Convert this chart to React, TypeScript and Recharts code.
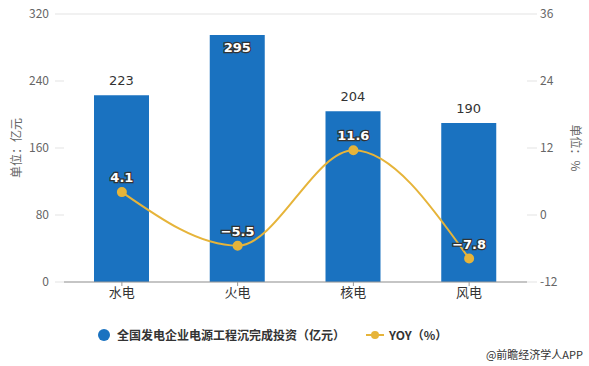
import React from "react";
import {
  Bar,
  CartesianGrid,
  ComposedChart,
  LabelList,
  Line,
  XAxis,
  YAxis,
} from "recharts";

const categories = ["水电", "火电", "核电", "风电"];
const investment = [223, 295, 204, 190];
const yoy = [4.1, -5.5, 11.6, -7.8];
const leftTicks = [0, 80, 160, 240, 320];
const rightTicks = [-12, 0, 12, 24, 36];

const data = categories.map((name, i) => ({
  name,
  investment: investment[i],
  yoy: yoy[i],
}));

const BAR_COLOR = "#1a72c0";
const LINE_COLOR = "#e6b43a";
const CJK = '"Noto Sans CJK SC", "Noto Sans", sans-serif';
const NUM = '"DejaVu Sans", sans-serif';

const BarLabel = (props: any) => {
  const { x, y, width, value } = props;
  const cx = x + width / 2;
  // tallest bar: label sits inside the bar top
  if (y < 50) {
    return (
      <text
        x={cx}
        y={y + 17}
        textAnchor="middle"
        fontFamily={NUM}
        fontSize={13}
        fontWeight="bold"
        fill="#fff"
        stroke="#333"
        strokeWidth={2.5}
        paintOrder="stroke"
      >
        {value}
      </text>
    );
  }
  return (
    <text
      x={cx}
      y={y - 10}
      textAnchor="middle"
      fontFamily={NUM}
      fontSize={13}
      fill="#333"
    >
      {value}
    </text>
  );
};

const LineLabel = (props: any) => {
  const { x, y, value } = props;
  return (
    <text
      x={x}
      y={y - 10}
      textAnchor="middle"
      fontFamily={NUM}
      fontSize={13}
      fontWeight="bold"
      fill="#fff"
      stroke="#333"
      strokeWidth={2.5}
      paintOrder="stroke"
    >
      {String(value).replace("-", "\u2212")}
    </text>
  );
};

const LeftAxisLabel = ({ viewBox }: any) => {
  const x = 15;
  const y = viewBox.y + viewBox.height / 2;
  return (
    <text
      x={x}
      y={y}
      transform={`rotate(-90 ${x} ${y})`}
      textAnchor="middle"
      dominantBaseline="central"
      fontFamily={CJK}
      fontSize={12}
      fill="#666"
    >
      单位：亿元
    </text>
  );
};

const RightAxisLabel = ({ viewBox }: any) => {
  const x = 576;
  const y = viewBox.y + viewBox.height / 2;
  return (
    <text
      x={x}
      y={y}
      transform={`rotate(90 ${x} ${y})`}
      textAnchor="middle"
      dominantBaseline="central"
      fontFamily={CJK}
      fontSize={12}
      fill="#666"
    >
      单位：%
    </text>
  );
};

export default function App() {
  return (
    <div
      style={{
        position: "absolute",
        left: 0,
        top: 0,
        width: 589,
        height: 366,
        background: "#fff",
        fontFamily: CJK,
      }}
    >
      <ComposedChart
        width={589}
        height={366}
        data={data}
        margin={{ top: 14, right: 0, left: 0, bottom: 54 }}
      >
        <CartesianGrid vertical={false} stroke="#e3e3e3" />
        <XAxis
          dataKey="name"
          height={30}
          axisLine={{ stroke: "#999" }}
          tickLine={{ stroke: "#999" }}
          tickSize={4}
          tick={{ fill: "#333", fontSize: 13, fontFamily: CJK }}
        />
        <YAxis
          yAxisId="left"
          width={64}
          domain={[0, 320]}
          ticks={leftTicks}
          axisLine={false}
          tickLine={{ stroke: "#e3e3e3" }}
          tickSize={9}
          tickMargin={6}
          tick={{ fill: "#666", fontSize: 12, fontFamily: CJK }}
          label={<LeftAxisLabel />}
        />
        <YAxis
          yAxisId="right"
          orientation="right"
          width={62}
          domain={[-12, 36]}
          ticks={rightTicks}
          axisLine={false}
          tickLine={{ stroke: "#e3e3e3" }}
          tickSize={10}
          tickMargin={3}
          tick={{ fill: "#666", fontSize: 12, fontFamily: CJK }}
          label={<RightAxisLabel />}
        />
        <Bar
          yAxisId="left"
          dataKey="investment"
          fill={BAR_COLOR}
          barSize={55}
          isAnimationActive={false}
        >
          <LabelList dataKey="investment" content={<BarLabel />} />
        </Bar>
        <Line
          yAxisId="right"
          type="monotone"
          dataKey="yoy"
          stroke={LINE_COLOR}
          strokeWidth={2}
          dot={{ r: 4, fill: LINE_COLOR, stroke: LINE_COLOR }}
          isAnimationActive={false}
        >
          <LabelList dataKey="yoy" content={<LineLabel />} />
        </Line>
      </ComposedChart>

      <div
        style={{
          position: "absolute",
          top: 326,
          left: 97,
          display: "flex",
          alignItems: "center",
          fontSize: 12,
          fontWeight: "bold",
          color: "#333",
          whiteSpace: "nowrap",
        }}
      >
        <svg width={14} height={14} style={{ marginRight: 6 }}>
          <circle cx={7} cy={7} r={6} fill={BAR_COLOR} />
        </svg>
        <span>全国发电企业电源工程沉完成投资（亿元）</span>
        <svg width={20} height={14} style={{ marginLeft: 20, marginRight: 4 }}>
          <line x1={1} y1={7} x2={19} y2={7} stroke={LINE_COLOR} strokeWidth={2} />
          <circle cx={10} cy={7} r={4} fill={LINE_COLOR} />
        </svg>
        <span>YOY（%）</span>
      </div>

      <div
        style={{
          position: "absolute",
          top: 346,
          right: 6,
          fontSize: 11,
          color: "#333",
          whiteSpace: "nowrap",
        }}
      >
        @前瞻经济学人APP
      </div>
    </div>
  );
}
